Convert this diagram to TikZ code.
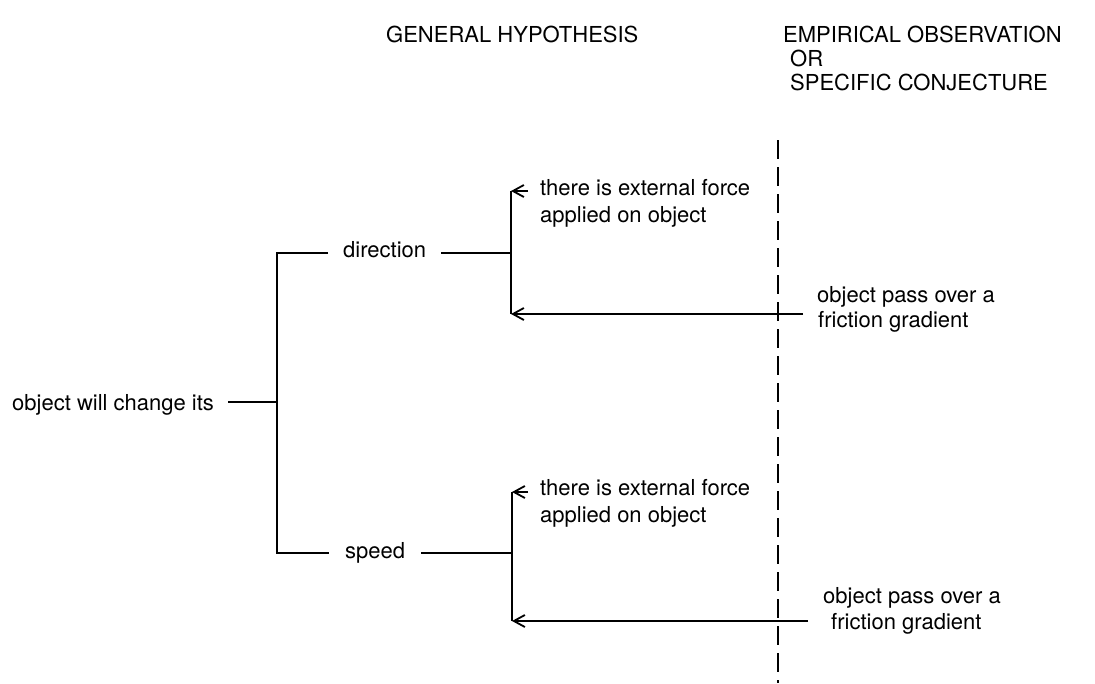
\documentclass[tikz,border=0pt]{standalone}
\usepackage{fontspec}
\setmainfont{TeX Gyre Heros}
\usetikzlibrary{arrows.meta}
\begin{document}
\begin{tikzpicture}[x=1pt,y=-1pt,
  every node/.style={font=\fontsize{22}{26}\selectfont, inner sep=0pt, anchor=base west},
  gap/.style={inner xsep=#1},
  wire/.style={line width=1.8pt},
  pointer/.style={wire, -{Straight Barb[length=11pt,width=12pt]}},
  divider/.style={line width=1.9pt, dash pattern=on 19pt off 8pt}]
\useasboundingbox (0,0) rectangle (1095,683);

% column headings
\node (gh) at (386,42) {GENERAL HYPOTHESIS};
\node (eo) at (783,42) {EMPIRICAL OBSERVATION};
\node (or) at (790,66) {OR};
\node (sc) at (790,90) {SPECIFIC CONJECTURE};

% dashed divider between the two columns
\coordinate (dtop) at (778,140);
\coordinate (dbot) at (778,683);
\draw[divider] (dtop) -- (dbot);

% root of the tree
\node[gap=14pt] (root) at (-2,410) {object will change its};
\coordinate (j0) at (277,402);
\coordinate (td) at (277,253);
\coordinate (ts) at (277,553);
\node[gap=15pt] (dir) at (328,257) {direction};
\node[gap=16pt] (spd) at (329,558) {speed};
\draw[wire] (root.east |- j0) -- (j0);
\draw[wire] (dir.west |- td) -- (td) -- (ts) -- (spd.west |- ts);

% direction branch
\coordinate (bd) at (511,253);
\coordinate (u1) at (511,191);
\coordinate (u2) at (511,314);
\draw[wire] (dir.east |- td) -- (bd);
\draw[wire] (u1) -- (u2);
\node[gap=12pt] (f1a) at (528,195) {there is external force};
\node (f1b) at (540,222) {applied on object};
\draw[pointer] (f1a.west |- u1) -- (u1);
\node[gap=14pt] (o1a) at (803,302) {object pass over a};
\node (o1b) at (818,327) {friction gradient};
\draw[pointer] (o1a.west |- u2) -- (u2);

% speed branch
\coordinate (bs) at (512,553);
\coordinate (l1) at (512,492);
\coordinate (l2) at (512,621);
\draw[wire] (spd.east |- ts) -- (bs);
\draw[wire] (l1) -- (l2);
\node[gap=12pt] (f2a) at (528,495) {there is external force};
\node (f2b) at (540,522) {applied on object};
\draw[pointer] (f2a.west |- l1) -- (l1);
\node[gap=15pt] (o2a) at (808,603) {object pass over a};
\node (o2b) at (831,629) {friction gradient};
\draw[pointer] (o2a.west |- l2) -- (l2);
\end{tikzpicture}
\end{document}
